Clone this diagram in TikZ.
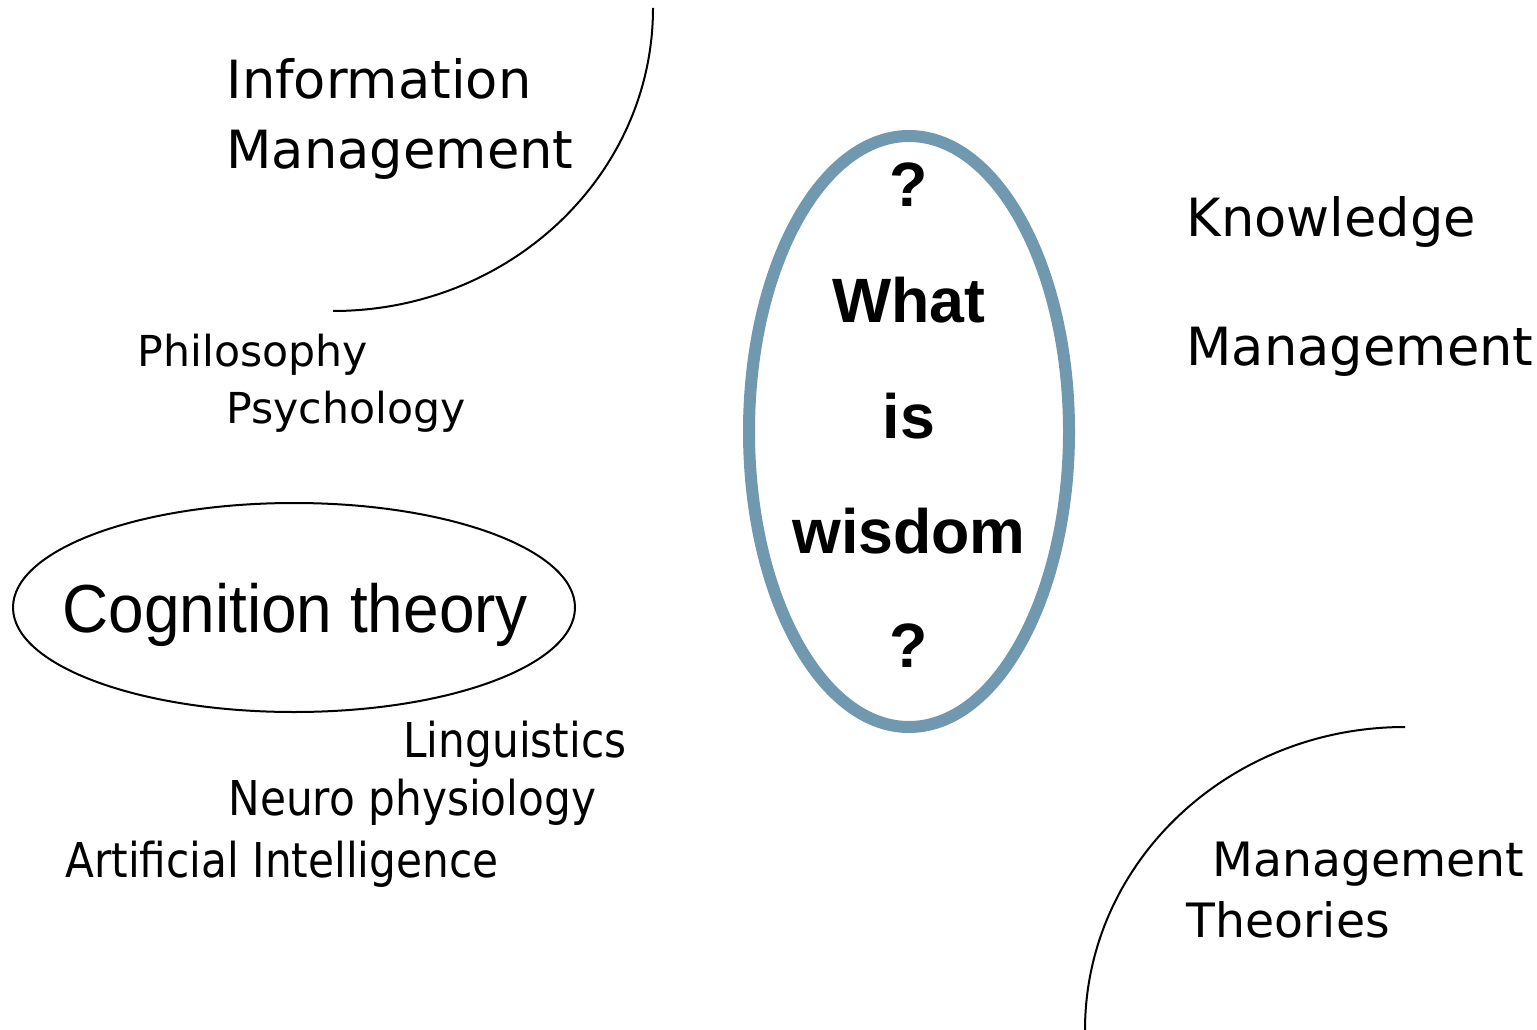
\documentclass[tikz,border=0pt]{standalone}
\usepackage{fontspec}
\setmainfont{DejaVu Sans}
\newfontfamily\arialfont{Liberation Sans}
\definecolor{wisdomblue}{RGB}{112,152,174}

\tikzset{every picture/.style={line width=0.75pt}}
\tikzset{
  bigtext/.style={anchor=base west,inner sep=0pt,font=\fontsize{39.5}{48}\selectfont},
  lowtext/.style={anchor=base west,inner sep=0pt,font=\fontsize{35.5}{43}\selectfont},
  midtext/.style={anchor=base west,inner sep=0pt,font=\fontsize{32}{40}\selectfont},
  smalltext/.style={anchor=base west,inner sep=0pt,xscale=0.88,font=\fontsize{36}{43}\selectfont},
  wisdomtext/.style={anchor=base,inner sep=0pt,font=\arialfont\bfseries\fontsize{47}{56}\selectfont}
}

\begin{document}
\begin{tikzpicture}[x=0.75pt,y=0.75pt,yscale=-1,xscale=1]
\useasboundingbox (0,0) rectangle (1537,1030);

%Shape: Arc [id:infoarc]
\draw [line width=1.5]  (653,8) arc (0:90:320 and 303) ;
%Shape: Arc [id:mgmtarc]
\draw [line width=1.5]  (1405,727) arc (-90:-180:320 and 303) ;
%Shape: Ellipse [id:wisdomellipse]
\draw [color=wisdomblue][line width=9]  (909,431.5) ellipse (160 and 295.5) ;
%Shape: Ellipse [id:cogellipse]
\draw [line width=1.5]  (294,607.5) ellipse (281 and 104.5) ;

% Text Node
\node (info) at (226,99) [bigtext] {Information};
% Text Node
\node (infomgmt) at (226,169) [bigtext] {Management};
% Text Node
\node (philo) at (137,366) [midtext] {Philosophy};
% Text Node
\node (psych) at (226,423) [midtext] {Psychology};
% Text Node
\node (cog) at (62,632) [anchor=base west,inner sep=0pt,xscale=0.94,font=\arialfont\fontsize{51}{60}\selectfont] {Cognition theory};
% Text Node
\node (ling) at (403,757) [smalltext] {Linguistics};
% Text Node
\node (neuro) at (228,815) [smalltext] {Neuro physiology};
% Text Node
\node (ai) at (65,877) [smalltext] {Artificial Intelligence};
% Text Node
\node (qtop) at (909,207) [wisdomtext] {?};
% Text Node
\node (what) at (909,323) [wisdomtext] {What};
% Text Node
\node (is) at (909,438) [wisdomtext] {is};
% Text Node
\node (wisdom) at (909,553) [wisdomtext] {wisdom};
% Text Node
\node (qbot) at (909,667) [wisdomtext] {?};
% Text Node
\node (know) at (1186,237) [bigtext] {Knowledge};
% Text Node
\node (kmgmt) at (1186,365) [bigtext] {Management};
% Text Node
\node (mtheo) at (1212,876) [lowtext] {Management};
% Text Node
\node (theories) at (1186,937) [lowtext] {Theories};

\end{tikzpicture}
\end{document}
